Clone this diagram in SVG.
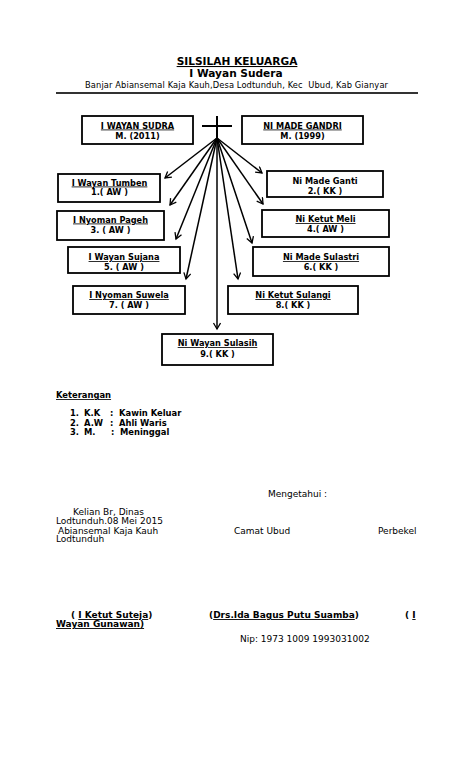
<svg xmlns="http://www.w3.org/2000/svg" width="474" height="780" viewBox="0 0 474 780">
<style>
text{font-family:"DejaVu Sans","Liberation Sans",sans-serif;fill:#000}
.b{font-weight:bold}
.u{text-decoration:underline}
.c{text-anchor:middle}
.box{fill:#fff;stroke:#000;stroke-width:1.8}
.nm{font-size:8.2px;font-weight:bold}
.con{stroke:#000;stroke-width:1.5;fill:none;marker-end:url(#ah)}
.r{font-size:9px}
</style>
<defs>
<marker id="ah" markerUnits="userSpaceOnUse" markerWidth="10" markerHeight="10" refX="7" refY="4" orient="auto">
<path d="M1,0.5 L7,4 L1,7.5" fill="none" stroke="#000" stroke-width="1.3"/>
</marker>
</defs>
<rect width="474" height="780" fill="#fff"/>

<g id="header">
<text class="b u c" x="237" y="65" font-size="10.6">SILSILAH KELUARGA</text>
<text class="b c" x="236" y="77" font-size="10.6">I Wayan Sudera</text>
<text x="85" y="88" font-size="8.3" textLength="303" lengthAdjust="spacing" xml:space="preserve">Banjar Abiansemal Kaja Kauh,Desa Lodtunduh, Kec  Ubud, Kab Gianyar</text>
<line x1="56" y1="93" x2="418" y2="93" stroke="#333" stroke-width="2"/>
</g>

<g id="cross">
<line x1="217" y1="116" x2="217" y2="139" stroke="#000" stroke-width="2"/>
<line x1="202" y1="126" x2="232" y2="126" stroke="#000" stroke-width="2"/>
</g>

<g id="connectors">
<line class="con" x1="217" y1="138" x2="165" y2="178"/>
<line class="con" x1="217" y1="138" x2="170" y2="205"/>
<line class="con" x1="217" y1="138" x2="176" y2="239"/>
<line class="con" x1="217" y1="138" x2="186" y2="279"/>
<line class="con" x1="217" y1="138" x2="217" y2="329"/>
<line class="con" x1="217" y1="138" x2="262" y2="173"/>
<line class="con" x1="217" y1="138" x2="263" y2="204"/>
<line class="con" x1="217" y1="138" x2="252" y2="243"/>
<line class="con" x1="217" y1="138" x2="238" y2="279"/>
</g>

<g id="father">
<rect class="box" x="82" y="116" width="111" height="28"/>
<text class="nm u c" x="137.5" y="128.5">I WAYAN SUDRA</text>
<text class="nm c" x="137.5" y="138.5">M. (2011)</text>
</g>
<g id="mother">
<rect class="box" x="242" y="116" width="121" height="28"/>
<text class="nm u c" x="302.5" y="128.5">NI MADE GANDRI</text>
<text class="nm c" x="302.5" y="138.5">M. (1999)</text>
</g>

<g id="child1">
<rect class="box" x="58" y="174" width="102" height="28"/>
<text class="nm u c" x="109.5" y="185.5">I Wayan Tumben</text>
<text class="nm c" x="109.5" y="195">1.( AW )</text>
</g>
<g id="child2">
<rect class="box" x="267" y="171" width="116" height="26"/>
<text class="nm c" x="325" y="184">Ni Made Ganti</text>
<text class="nm c" x="325" y="193.5">2.( KK )</text>
</g>
<g id="child3">
<rect class="box" x="57" y="211" width="107" height="29"/>
<text class="nm u c" x="110.5" y="222.5">I Nyoman Pageh</text>
<text class="nm c" x="110.5" y="232.5">3. ( AW )</text>
</g>
<g id="child4">
<rect class="box" x="262" y="210" width="127" height="27"/>
<text class="nm u c" x="325.5" y="222">Ni Ketut Meli</text>
<text class="nm c" x="325.5" y="232">4.( AW )</text>
</g>
<g id="child5">
<rect class="box" x="68" y="247" width="112" height="26"/>
<text class="nm u c" x="124" y="260">I Wayan Sujana</text>
<text class="nm c" x="124" y="269.5">5. ( AW )</text>
</g>
<g id="child6">
<rect class="box" x="253" y="247" width="136" height="29"/>
<text class="nm u c" x="321" y="260">Ni Made Sulastri</text>
<text class="nm c" x="321" y="269.5">6.( KK )</text>
</g>
<g id="child7">
<rect class="box" x="73" y="286" width="112" height="28"/>
<text class="nm u c" x="129" y="298">I Nyoman Suwela</text>
<text class="nm c" x="129" y="307.5">7. ( AW )</text>
</g>
<g id="child8">
<rect class="box" x="228" y="286" width="130" height="28"/>
<text class="nm u c" x="293" y="298">Ni Ketut Sulangi</text>
<text class="nm c" x="293" y="307.5">8.( KK )</text>
</g>
<g id="child9">
<rect class="box" x="162" y="334" width="111" height="31"/>
<text class="nm u c" x="217.5" y="346">Ni Wayan Sulasih</text>
<text class="nm c" x="217.5" y="356.5">9.( KK )</text>
</g>

<g id="keterangan" font-size="8.4" font-weight="bold">
<text class="u" x="56" y="398">Keterangan</text>
<text x="70" y="416">1.</text><text x="84" y="416">K.K</text><text x="110" y="416">:</text><text x="119" y="416">Kawin Keluar</text>
<text x="70" y="425.5">2.</text><text x="84" y="425.5">A.W</text><text x="110" y="425.5">:</text><text x="119" y="425.5">Ahli Waris</text>
<text x="70" y="435">3.</text><text x="84" y="435">M.</text><text x="111" y="435">:</text><text x="120" y="435">Meninggal</text>
</g>

<g id="footer">
<text class="r" x="268" y="496.5">Mengetahui :</text>
<text class="r" x="73" y="515">Kelian Br, Dinas</text>
<text class="r" x="56" y="524">Lodtunduh.08 Mei 2015</text>
<text class="r" x="58" y="533.5">Abiansemal Kaja Kauh</text>
<text class="r" x="234" y="533.5">Camat Ubud</text>
<text class="r" x="378" y="533.5">Perbekel</text>
<text class="r" x="56" y="542">Lodtunduh</text>
<text class="b" x="71" y="618" font-size="9">( <tspan class="u">I Ketut Suteja</tspan>)</text>
<text class="b" x="209" y="618" font-size="9">(<tspan class="u">Drs.Ida Bagus Putu Suamba</tspan>)</text>
<text class="b" x="405" y="618" font-size="9">( <tspan class="u">I</tspan></text>
<text class="b u" x="56" y="627" font-size="9">Wayan Gunawan)</text>
<text class="r" x="240" y="641.5">Nip: 1973 1009 1993031002</text>
</g>
</svg>
